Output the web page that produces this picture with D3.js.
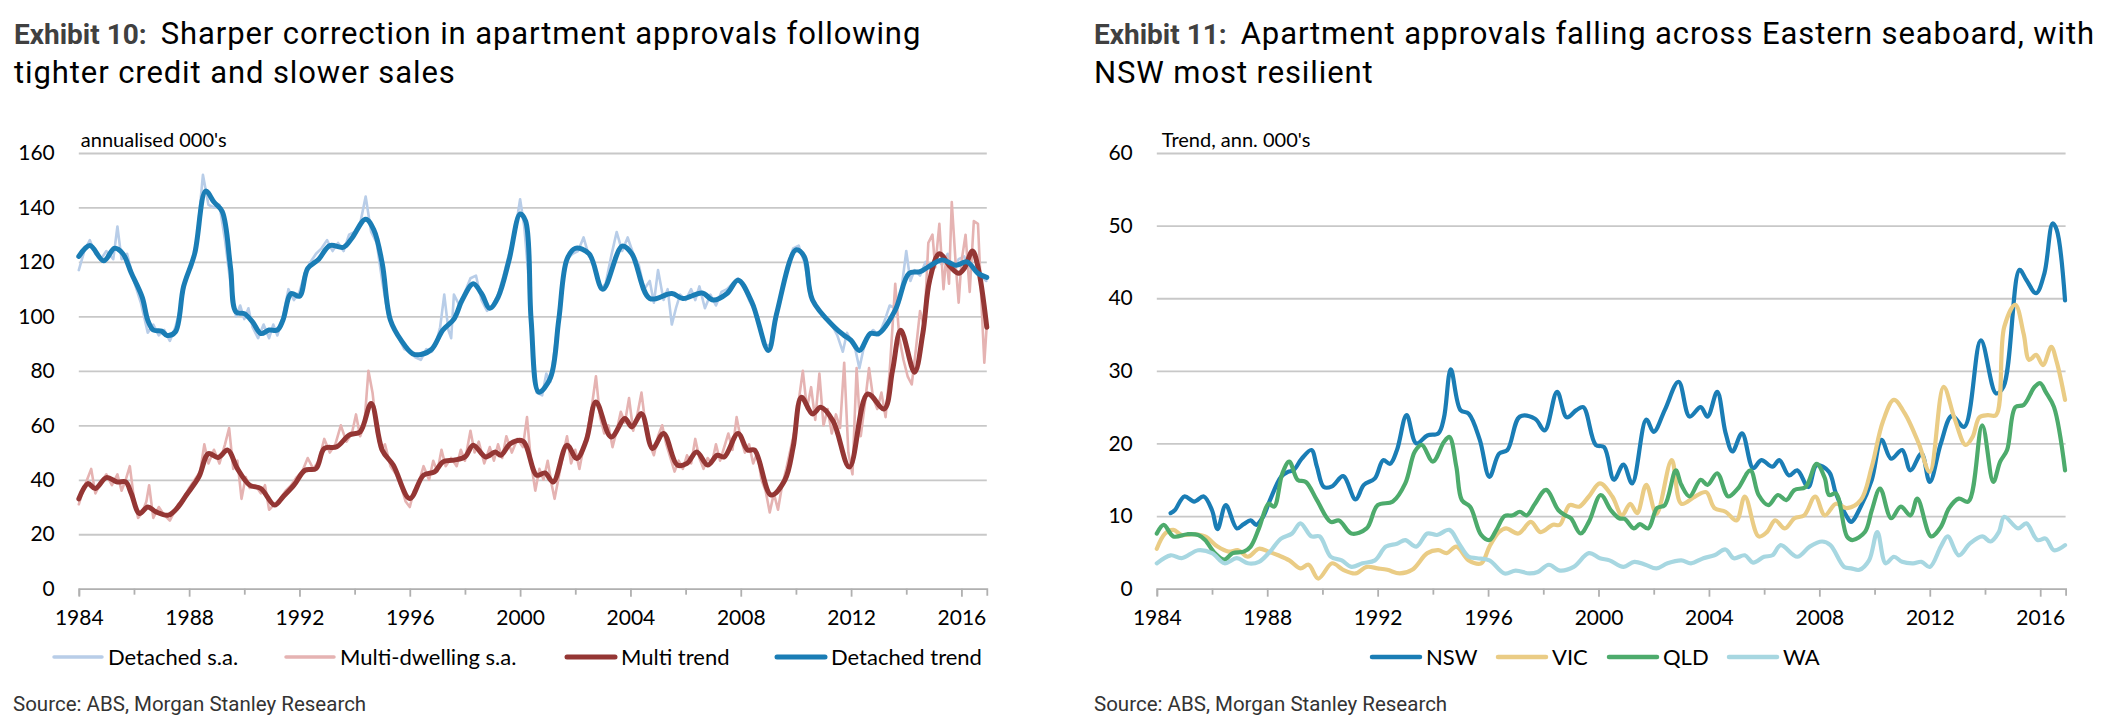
<!DOCTYPE html>
<meta charset="utf-8">
<style>
  body { margin: 0; background: #fff; }
  .grid line { stroke: #c8c8c8; stroke-width: 1.8; }
  .grid path { display: none; }
  .xaxis path, .xaxis line { stroke: #b0b0b0; stroke-width: 1.8; }
  .xaxis text, .ylab text { font-family: Lato, "Open Sans", sans-serif; font-size: 21px; fill: #000; }
  .ylab path { display: none; }
</style>
<body>
<script src="https://d3js.org/d3.v7.min.js"></script>
<script>

// ---- Exhibit 10 data, [year, value] ----
const detachedSA = [[1984.0,117],[1984.2,124],[1984.4,128],[1984.6,123],[1984.8,121],[1985.0,124],[1985.25,121],[1985.4,133],[1985.55,121],[1985.75,123],[1986.0,113],[1986.25,105],[1986.5,94],[1986.7,97],[1986.9,93],[1987.1,95],[1987.3,91],[1987.5,96],[1987.7,104],[1987.9,115],[1988.1,118],[1988.3,130],[1988.5,152],[1988.7,141],[1988.9,140],[1989.1,141],[1989.3,128],[1989.5,112],[1989.7,100],[1989.85,104],[1990.0,99],[1990.15,103],[1990.3,96],[1990.5,92],[1990.7,97],[1990.9,92],[1991.05,97],[1991.2,93],[1991.4,100],[1991.6,110],[1991.8,106],[1992.0,109],[1992.2,116],[1992.4,120],[1992.6,123],[1992.8,125],[1993.0,128],[1993.2,124],[1993.4,127],[1993.6,124],[1993.8,130],[1994.0,131],[1994.2,134],[1994.4,144],[1994.6,131],[1994.8,127],[1995.0,113],[1995.2,101],[1995.4,96],[1995.6,92],[1995.8,88],[1996.0,87],[1996.2,85],[1996.4,84],[1996.6,88],[1996.8,87],[1997.0,92],[1997.1,96],[1997.25,108],[1997.4,95],[1997.5,92],[1997.6,108],[1997.8,104],[1998.0,109],[1998.2,114],[1998.4,115],[1998.6,106],[1998.8,102],[1999.0,104],[1999.2,108],[1999.4,115],[1999.6,123],[1999.8,130],[2000.0,143],[2000.15,133],[2000.3,115],[2000.45,90],[2000.6,72],[2000.8,71],[2000.95,79],[2001.1,76],[2001.3,92],[2001.5,110],[2001.7,121],[2001.9,123],[2002.1,124],[2002.3,129],[2002.5,122],[2002.7,119],[2002.9,110],[2003.1,112],[2003.3,122],[2003.5,131],[2003.7,124],[2003.9,129],[2004.1,123],[2004.3,119],[2004.5,110],[2004.7,113],[2004.85,105],[2005.0,117],[2005.2,106],[2005.35,110],[2005.5,97],[2005.65,103],[2005.8,108],[2006.0,106],[2006.2,110],[2006.35,106],[2006.5,111],[2006.7,103],[2006.9,108],[2007.1,104],[2007.3,109],[2007.5,110],[2007.7,112],[2007.9,114],[2008.1,111],[2008.3,106],[2008.5,102],[2008.7,95],[2008.9,89],[2009.1,90],[2009.3,100],[2009.5,110],[2009.7,119],[2009.9,125],[2010.1,126],[2010.3,120],[2010.5,110],[2010.7,104],[2010.9,102],[2011.1,99],[2011.3,97],[2011.5,93],[2011.7,87],[2011.85,94],[2012.0,91],[2012.15,88],[2012.3,81],[2012.45,88],[2012.6,93],[2012.8,95],[2013.0,93],[2013.2,98],[2013.4,104],[2013.6,103],[2013.8,108],[2014.0,124],[2014.15,113],[2014.3,117],[2014.5,115],[2014.7,120],[2014.9,117],[2015.1,121],[2015.3,119],[2015.5,123],[2015.7,117],[2015.9,121],[2016.1,122],[2016.3,118],[2016.5,118],[2016.7,115],[2016.9,113]];

const multiSA = [[1984.0,31],[1984.15,36],[1984.3,40],[1984.45,44],[1984.6,35],[1984.8,39],[1985.0,42],[1985.2,38],[1985.4,42],[1985.55,36],[1985.7,40],[1985.85,45],[1986.0,33],[1986.15,26],[1986.3,28],[1986.45,32],[1986.55,38],[1986.7,26],[1986.9,30],[1987.1,27],[1987.3,25],[1987.45,28],[1987.6,31],[1987.8,33],[1988.0,37],[1988.2,40],[1988.4,43],[1988.55,53],[1988.7,46],[1988.9,51],[1989.1,46],[1989.3,53],[1989.45,59],[1989.6,44],[1989.75,47],[1989.9,33],[1990.05,41],[1990.2,37],[1990.4,38],[1990.6,35],[1990.75,38],[1990.9,29],[1991.1,31],[1991.3,33],[1991.5,36],[1991.7,38],[1991.9,41],[1992.1,43],[1992.3,48],[1992.5,44],[1992.7,47],[1992.9,55],[1993.1,50],[1993.3,53],[1993.5,60],[1993.7,54],[1993.9,57],[1994.05,64],[1994.2,56],[1994.35,60],[1994.5,80],[1994.65,72],[1994.8,58],[1994.95,51],[1995.1,53],[1995.3,45],[1995.5,42],[1995.7,37],[1995.85,32],[1996.0,30],[1996.15,36],[1996.3,38],[1996.5,45],[1996.7,40],[1996.85,47],[1997.0,43],[1997.15,51],[1997.3,45],[1997.5,48],[1997.7,45],[1997.85,51],[1998.0,47],[1998.2,58],[1998.35,50],[1998.5,54],[1998.7,46],[1998.9,52],[1999.05,47],[1999.2,53],[1999.35,48],[1999.5,56],[1999.7,50],[1999.9,55],[2000.1,52],[2000.25,63],[2000.4,46],[2000.55,36],[2000.7,44],[2000.85,40],[2001.0,47],[2001.15,38],[2001.25,33],[2001.4,41],[2001.55,49],[2001.7,56],[2001.85,46],[2002.0,51],[2002.15,44],[2002.3,52],[2002.45,58],[2002.6,67],[2002.75,78],[2002.9,63],[2003.05,57],[2003.2,60],[2003.35,52],[2003.5,58],[2003.65,65],[2003.8,61],[2003.95,70],[2004.1,58],[2004.25,64],[2004.4,72],[2004.55,60],[2004.7,53],[2004.85,49],[2005.0,56],[2005.15,60],[2005.3,53],[2005.45,48],[2005.6,43],[2005.75,47],[2005.9,44],[2006.05,49],[2006.2,46],[2006.35,55],[2006.5,48],[2006.65,44],[2006.8,48],[2006.95,46],[2007.1,53],[2007.25,47],[2007.4,52],[2007.55,57],[2007.7,51],[2007.85,63],[2008.0,55],[2008.15,50],[2008.3,53],[2008.45,46],[2008.6,50],[2008.75,40],[2008.9,36],[2009.05,28],[2009.2,35],[2009.35,29],[2009.5,38],[2009.65,44],[2009.8,51],[2009.95,58],[2010.1,69],[2010.25,80],[2010.4,66],[2010.55,74],[2010.7,62],[2010.85,79],[2011.0,60],[2011.15,66],[2011.3,57],[2011.45,64],[2011.6,59],[2011.75,83],[2011.9,50],[2012.05,42],[2012.2,81],[2012.35,56],[2012.5,68],[2012.65,81],[2012.8,70],[2012.95,66],[2013.1,72],[2013.25,63],[2013.4,80],[2013.6,112],[2013.75,92],[2013.9,84],[2014.05,78],[2014.2,75],[2014.35,88],[2014.5,102],[2014.65,96],[2014.8,127],[2014.95,130],[2015.05,118],[2015.2,134],[2015.35,110],[2015.45,122],[2015.55,112],[2015.65,142],[2015.8,118],[2015.9,105],[2016.0,120],[2016.15,130],[2016.3,109],[2016.45,135],[2016.6,134],[2016.75,100],[2016.83,83],[2016.92,97]];

const multiTrend = [[1984.0,33],[1984.33,38.6],[1984.6,36.8],[1985.0,40.8],[1985.4,39.2],[1985.7,39.2],[1985.9,35],[1986.2,27.6],[1986.5,30],[1986.8,28.2],[1987.25,27],[1987.6,30],[1987.9,34.4],[1988.35,41],[1988.7,49.6],[1989.05,48.2],[1989.4,50.9],[1989.75,44.1],[1990.2,38],[1990.6,36.8],[1991.1,30.7],[1991.4,33.7],[1991.8,38],[1992.2,43.5],[1992.6,44.1],[1992.9,51.5],[1993.35,52.1],[1993.8,56.4],[1994.2,57.6],[1994.6,68],[1995.0,50.9],[1995.4,45.4],[1996.0,33.1],[1996.5,41.7],[1996.9,42.9],[1997.2,46.6],[1997.6,47.2],[1998.0,48.4],[1998.3,52.7],[1998.75,48.4],[1999.1,50.2],[1999.3,49],[1999.65,53.3],[2000.1,54.2],[2000.6,41.7],[2000.9,42.5],[2001.2,39.2],[2001.7,52.7],[2002.05,47.8],[2002.4,54.5],[2002.75,68.6],[2003.3,55.7],[2003.8,62.5],[2004.05,59.4],[2004.4,64.3],[2004.8,51.5],[2005.2,57],[2005.7,45.4],[2006.05,46],[2006.4,50.2],[2006.8,45.4],[2007.15,49],[2007.4,48.4],[2007.9,57],[2008.25,50.9],[2008.5,50.9],[2009.1,34.4],[2009.6,39.9],[2009.9,52],[2010.2,70.3],[2010.6,64.2],[2010.9,66.6],[2011.35,61.5],[2011.94,44.7],[2012.6,71.5],[2013.2,66],[2013.5,80],[2013.8,94.9],[2014.3,79.5],[2014.6,93.7],[2014.85,113.3],[2015.2,123],[2015.6,118.2],[2015.9,115.8],[2016.1,117.6],[2016.4,124],[2016.6,118.2],[2016.92,96]];

const detachedTrend = [[1984.0,122],[1984.4,126],[1984.9,120.4],[1985.3,125],[1985.6,123],[1985.9,116],[1986.3,107],[1986.5,98.6],[1986.7,95],[1987.0,94.6],[1987.2,93],[1987.5,94.3],[1987.8,111],[1988.2,123],[1988.6,146],[1988.9,142],[1989.2,138.5],[1989.5,118],[1989.7,101.6],[1990.0,101],[1990.3,98],[1990.6,93.7],[1990.9,95],[1991.2,95],[1991.4,98.6],[1991.7,108.4],[1992.0,107.4],[1992.3,117.6],[1992.7,121],[1993.1,126],[1993.6,125.4],[1993.9,128.7],[1994.4,135.7],[1994.7,131.7],[1995.0,119.5],[1995.3,98.6],[1995.7,91],[1996.1,86.3],[1996.4,86],[1996.8,88],[1997.2,95],[1997.6,99],[1997.9,106],[1998.3,112],[1998.6,108.4],[1998.9,103],[1999.2,107],[1999.6,120.7],[2000.0,137.6],[2000.2,135],[2000.4,98.6],[2000.68,72.2],[2001.1,77.5],[2001.4,98.6],[2001.7,121],[2002.0,125],[2002.5,123],[2003.0,110],[2003.7,125.8],[2004.05,123],[2004.7,106.6],[2005.5,108.4],[2005.9,106.6],[2006.6,108.6],[2007.0,106],[2007.5,108.4],[2007.9,113.3],[2008.4,105.3],[2009.0,87.5],[2009.3,101],[2010.0,124.4],[2010.3,122],[2010.6,106],[2011.4,96],[2011.75,93],[2012.0,91.2],[2012.3,87.5],[2012.7,93.7],[2013.0,93.7],[2013.6,102.3],[2014.1,115.8],[2014.5,116.4],[2014.8,118.2],[2015.3,120.7],[2015.8,118.8],[2016.2,120],[2016.6,115.8],[2016.92,114.3]];

// ---- Exhibit 11 data, [year, value] ----
const nsw = [[1984.5,10.4],[1984.65,10.8],[1985.0,12.7],[1985.35,12.0],[1985.7,12.7],[1986.0,10.8],[1986.2,8.2],[1986.5,11.5],[1986.9,8.3],[1987.15,8.9],[1987.4,9.4],[1987.6,8.8],[1987.85,9.9],[1988.1,12.2],[1988.5,15.4],[1988.75,16.1],[1988.95,16.3],[1989.25,17.9],[1989.6,19.1],[1989.8,16.8],[1990.05,14.0],[1990.35,14.1],[1990.75,15.5],[1991.2,12.3],[1991.5,14.3],[1991.9,15.2],[1992.2,17.7],[1992.45,17.2],[1992.7,19.1],[1993.05,23.9],[1993.4,20.0],[1993.8,21.1],[1994.2,21.4],[1994.4,23.5],[1994.65,30.2],[1995.0,24.6],[1995.3,24.1],[1995.7,20.5],[1996.05,15.4],[1996.4,18.6],[1996.7,19.1],[1997.15,23.7],[1997.7,23.4],[1998.05,21.8],[1998.5,27.1],[1998.85,23.6],[1999.2,24.6],[1999.45,25],[1999.9,19.8],[2000.2,19.5],[2000.56,15],[2000.9,17.1],[2001.22,14.5],[2001.73,23.3],[2002.0,21.6],[2002.4,24.6],[2002.9,28.5],[2003.3,23.7],[2003.7,25.0],[2003.95,23.7],[2004.3,27.1],[2004.6,21.5],[2004.85,18.9],[2005.2,21.4],[2005.6,16.6],[2005.9,17.7],[2006.3,16.8],[2006.55,17.7],[2006.9,15.6],[2007.2,16.3],[2007.6,14.0],[2007.9,17.0],[2008.35,16.1],[2008.6,13.1],[2009.0,9.9],[2009.15,9.2],[2009.5,11.3],[2009.9,15.0],[2010.25,20.5],[2010.6,17.9],[2011.0,19.1],[2011.3,16.3],[2011.7,18.6],[2012.0,14.7],[2012.4,20.0],[2012.8,23.8],[2013.25,22.3],[2013.85,34.2],[2014.4,26.9],[2014.67,27.8],[2015.25,43.9],[2015.5,42.5],[2015.85,40.7],[2016.15,43.4],[2016.45,50.3],[2016.6,49.4],[2016.9,39.7]];

const vic = [[1984.0,5.5],[1984.3,7.6],[1984.6,8.1],[1984.9,7.4],[1985.3,7.5],[1985.75,7.2],[1986.2,5.8],[1986.6,5.1],[1986.95,5.3],[1987.3,4.4],[1987.7,5.5],[1988.05,5.1],[1988.4,4.6],[1988.8,3.9],[1989.2,2.8],[1989.5,3.3],[1989.85,1.4],[1990.35,3.5],[1990.75,2.6],[1991.2,2.1],[1991.6,3.0],[1992.0,2.8],[1992.35,2.6],[1992.8,2.1],[1993.25,2.6],[1993.8,4.9],[1994.2,5.3],[1994.5,4.9],[1994.85,5.8],[1995.3,3.9],[1995.75,3.5],[1996.05,5.8],[1996.4,7.8],[1996.65,8.3],[1997.1,7.6],[1997.55,9.2],[1997.9,7.8],[1998.35,8.8],[1998.6,8.8],[1998.95,11.5],[1999.3,11.3],[1999.65,12.7],[2000.05,14.5],[2000.5,12.7],[2000.85,10.1],[2001.15,11.7],[2001.4,10.4],[2001.73,14.3],[2002.1,10.3],[2002.65,17.7],[2003.0,11.7],[2003.5,12.7],[2003.9,13.3],[2004.2,11.1],[2004.6,10.6],[2005.0,9.4],[2005.3,12.7],[2005.8,7.2],[2006.1,7.8],[2006.4,9.4],[2006.75,8.3],[2007.1,9.7],[2007.45,10.1],[2007.85,12.7],[2008.2,10.1],[2008.6,11.7],[2009.0,11.1],[2009.5,12.2],[2009.9,16.8],[2010.3,23.0],[2010.7,26.0],[2011.1,24.1],[2011.6,20.0],[2012.0,16.1],[2012.5,27.8],[2012.9,23.4],[2013.3,19.8],[2013.55,20.9],[2013.8,23.6],[2014.1,23.9],[2014.4,23.9],[2014.7,36.1],[2015.1,39.1],[2015.4,35.1],[2015.6,31.5],[2015.85,32.2],[2016.1,30.8],[2016.4,33.3],[2016.6,31.2],[2016.9,26.0]];

const qld = [[1984.0,7.6],[1984.25,8.8],[1984.6,7.2],[1985.1,7.5],[1985.5,7.4],[1985.75,6.7],[1986.1,4.9],[1986.45,4.0],[1986.75,4.9],[1987.15,5.1],[1987.4,5.8],[1987.7,8.3],[1988.05,11.7],[1988.25,11.3],[1988.55,15.9],[1988.8,17.5],[1989.1,15.0],[1989.4,14.7],[1989.8,12.2],[1990.3,9.2],[1990.6,9.4],[1991.05,7.6],[1991.6,8.3],[1992.0,11.5],[1992.55,12.0],[1993.0,14.5],[1993.35,18.9],[1993.6,19.8],[1994.0,17.5],[1994.4,20.2],[1994.6,20.9],[1994.85,16.8],[1995.05,12.2],[1995.35,11.3],[1995.75,7.4],[1996.05,6.7],[1996.3,8.1],[1996.6,10.0],[1996.9,10.1],[1997.15,10.6],[1997.4,10.1],[1997.7,11.7],[1998.1,13.6],[1998.55,10.8],[1998.8,10.1],[1999.0,9.7],[1999.35,7.6],[1999.65,9.2],[2000.08,12.9],[2000.45,10.8],[2000.75,9.7],[2000.95,9.6],[2001.28,8.3],[2001.5,8.9],[2001.8,8.3],[2002.12,11.1],[2002.4,11.5],[2002.8,16.3],[2003.0,14.3],[2003.3,12.7],[2003.7,15.0],[2003.95,14.3],[2004.3,15.9],[2004.7,12.7],[2005.05,13.8],[2005.5,16.3],[2005.8,12.9],[2006.15,11.5],[2006.5,12.9],[2006.8,12.2],[2007.1,13.6],[2007.5,14.0],[2007.9,17.2],[2008.2,15.2],[2008.35,12.9],[2008.6,13.1],[2009.0,7.2],[2009.2,6.7],[2009.65,7.8],[2009.9,10.8],[2010.2,13.8],[2010.6,9.7],[2010.95,11.3],[2011.3,10.1],[2011.55,12.4],[2012.05,7.2],[2012.4,8.5],[2012.7,11.1],[2013.05,12.4],[2013.4,12.0],[2013.9,22.5],[2014.3,14.7],[2014.55,17.5],[2014.8,19.1],[2015.1,25.0],[2015.4,25.3],[2015.8,27.8],[2016.0,28.3],[2016.2,27.1],[2016.5,25.0],[2016.9,16.3]];

const wa = [[1984.0,3.5],[1984.5,4.6],[1984.9,4.2],[1985.5,5.3],[1986.0,4.9],[1986.45,3.5],[1986.9,4.2],[1987.3,3.5],[1987.7,3.7],[1988.1,5.1],[1988.5,6.9],[1988.9,7.6],[1989.2,9.0],[1989.6,7.2],[1989.9,7.2],[1990.3,4.4],[1990.7,3.9],[1991.05,3.0],[1991.45,3.5],[1991.9,3.9],[1992.3,5.8],[1992.7,6.2],[1993.0,6.7],[1993.4,5.8],[1993.8,7.6],[1994.15,7.4],[1994.6,8.1],[1994.95,6.2],[1995.3,4.4],[1995.6,4.2],[1996.05,3.9],[1996.6,2.1],[1997.0,2.5],[1997.5,2.1],[1997.8,2.3],[1998.2,3.3],[1998.6,2.5],[1999.1,3.0],[1999.65,4.9],[2000.05,4.2],[2000.4,3.9],[2000.9,3.0],[2001.3,3.7],[2001.7,3.3],[2002.1,2.8],[2002.5,3.5],[2003.0,3.9],[2003.35,3.5],[2003.8,4.2],[2004.2,4.6],[2004.6,5.4],[2004.9,4.2],[2005.3,4.6],[2005.6,3.6],[2006.0,4.4],[2006.3,4.6],[2006.6,6.0],[2007.2,4.4],[2007.65,5.8],[2008.1,6.5],[2008.4,6.0],[2008.9,3.0],[2009.15,2.8],[2009.45,2.6],[2009.8,3.9],[2010.1,7.8],[2010.4,3.5],[2010.7,4.4],[2011.0,3.7],[2011.4,3.5],[2011.7,3.7],[2012.0,3.0],[2012.4,5.8],[2012.65,7.2],[2013.05,4.6],[2013.45,6.2],[2013.9,7.2],[2014.2,6.5],[2014.5,7.8],[2014.7,9.9],[2015.2,8.3],[2015.5,9.0],[2015.9,6.7],[2016.2,6.9],[2016.5,5.3],[2016.9,6.0]];

const xTicks = d3.range(1984, 2017, 2);
const yTicksLeft = [0, 20, 40, 60, 80, 100, 120, 140, 160];
const yTicksRight = [0, 10, 20, 30, 40, 50, 60];

const svg = d3.select("body").append("svg")
  .attr("width", 2123).attr("height", 725)
  .style("font-family", "Roboto, sans-serif");

// two-line exhibit heading: bold label, then regular wording with a bit of tracking
function title(x, boldPart, rest1, line2) {
  const t = svg.append("text").attr("x", x).attr("y", 44);
  t.append("tspan").attr("font-weight", "bold").attr("fill", "#404040")
    .style("font-size", "28px").text(boldPart);
  t.append("tspan").attr("fill", "#000").attr("dx", 14)
    .style("font-size", "31px").style("letter-spacing", "0.9px").text(rest1);
  svg.append("text").attr("x", x).attr("y", 83).style("font-size", "31px")
    .style("letter-spacing", "0.9px").attr("fill", "#000").text(line2);
}

function panel(opts) {
  const x = d3.scaleLinear().domain([1984, 2016.92]).range([opts.left, opts.right]);
  const y = d3.scaleLinear().domain([0, opts.yMax]).range([588.7, 153]);
  const g = svg.append("g");

  g.append("g").attr("class", "grid")
    .attr("transform", `translate(${opts.left},0)`)
    .call(d3.axisLeft(y).tickValues(opts.yTicks.slice(1)).tickSize(-(opts.right - opts.left)).tickFormat(""));

  g.append("g").attr("class", "ylab")
    .attr("transform", `translate(${opts.left},0)`)
    .call(d3.axisLeft(y).tickValues(opts.yTicks).tickSize(0).tickPadding(24));

  const xa = g.append("g").attr("class", "xaxis")
    .attr("transform", "translate(0,588.7)")
    .call(d3.axisBottom(x).tickValues(xTicks).tickSizeOuter(0).tickSize(7).tickPadding(14)
      .tickFormat(d => d % 4 === 0 ? d : ""));
  xa.selectAll(".tick line").attr("y2", d => d % 4 === 0 ? 8 : 6);

  g.append("text").attr("x", opts.left + opts.unitDx).attr("y", 147)
    .style("font-family", "Lato, sans-serif").style("font-size", "20px").text(opts.unit);

  opts.series.forEach(s => {
    const line = d3.line().x(d => x(d[0])).y(d => y(d[1]))
      .curve(s.smooth ? d3.curveCatmullRom.alpha(0.5) : d3.curveLinear);
    g.append("path").datum(s.data).attr("d", line)
      .attr("fill", "none").attr("stroke", s.color).attr("stroke-width", s.width)
      .attr("stroke-linejoin", "round").attr("stroke-linecap", "round");
  });

  opts.series.forEach((s, i) => {
    const lx = opts.legendX[i];
    g.append("line").attr("x1", lx).attr("x2", lx + 48).attr("y1", 657).attr("y2", 657)
      .attr("stroke", s.color).attr("stroke-width", s.legendWidth).attr("stroke-linecap", "round");
    g.append("text").attr("x", lx + 54).attr("y", 657).attr("dy", "0.35em")
      .style("font-family", "Lato, sans-serif").style("font-size", "22px").text(s.name);
  });

  svg.append("text").attr("x", opts.sourceX).attr("y", 711)
    .style("font-size", "20.5px").attr("fill", "#333").text("Source: ABS, Morgan Stanley Research");
}

title(14, "Exhibit 10:", "Sharper correction in apartment approvals following", "tighter credit and slower sales");
title(1094, "Exhibit 11:", "Apartment approvals falling across Eastern seaboard, with", "NSW most resilient");

panel({
  left: 78.8, right: 986.8, yMax: 160, yTicks: yTicksLeft,
  unit: "annualised 000's", unitDx: 2, sourceX: 13,
  legendX: [54, 286, 567, 777],
  series: [
    { name: "Detached s.a.", data: detachedSA, color: "#b8cde8", width: 2.6, legendWidth: 3.5, smooth: false },
    { name: "Multi-dwelling s.a.", data: multiSA, color: "#e5b3b2", width: 2.6, legendWidth: 3.5, smooth: false },
    { name: "Multi trend", data: multiTrend, color: "#943634", width: 5, legendWidth: 5, smooth: true },
    { name: "Detached trend", data: detachedTrend, color: "#1a7db5", width: 5, legendWidth: 5, smooth: true }
  ]
});

panel({
  left: 1156.8, right: 2065.6, yMax: 60, yTicks: yTicksRight,
  unit: "Trend, ann. 000's", unitDx: 5, sourceX: 1094,
  legendX: [1372, 1498, 1609, 1729],
  series: [
    { name: "NSW", data: nsw, color: "#1a7db5", width: 4.2, legendWidth: 4.5, smooth: true },
    { name: "VIC", data: vic, color: "#eacc85", width: 4.2, legendWidth: 4.5, smooth: true },
    { name: "QLD", data: qld, color: "#4dab6c", width: 4.2, legendWidth: 4.5, smooth: true },
    { name: "WA", data: wa, color: "#a7d7e1", width: 4.2, legendWidth: 4.5, smooth: true }
  ]
});

</script>
</body>
</html>
